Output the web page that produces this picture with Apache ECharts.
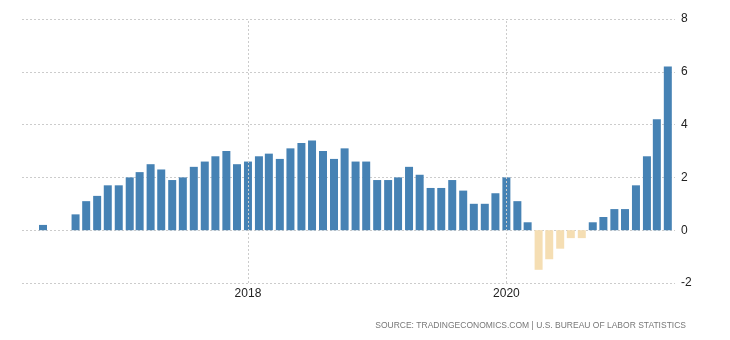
<!DOCTYPE html>
<html>
<head>
<meta charset="utf-8">
<script src="https://cdn.jsdelivr.net/npm/echarts@6/dist/echarts.min.js"></script>
<style>
  html, body { margin: 0; padding: 0; background: #fff; }
  #chart { width: 730px; height: 340px; }
</style>
</head>
<body>
<div id="chart"></div>
<script>
// Monthly dates (bar positions)
var months = [
  '2016-06-01','2016-07-01','2016-08-01','2016-09-01','2016-10-01','2016-11-01','2016-12-01',
  '2017-01-01','2017-02-01','2017-03-01','2017-04-01','2017-05-01','2017-06-01',
  '2017-07-01','2017-08-01','2017-09-01','2017-10-01','2017-11-01','2017-12-01',
  '2018-01-01','2018-02-01','2018-03-01','2018-04-01','2018-05-01','2018-06-01',
  '2018-07-01','2018-08-01','2018-09-01','2018-10-01','2018-11-01','2018-12-01',
  '2019-01-01','2019-02-01','2019-03-01','2019-04-01','2019-05-01','2019-06-01',
  '2019-07-01','2019-08-01','2019-09-01','2019-10-01','2019-11-01','2019-12-01',
  '2020-01-01','2020-02-01','2020-03-01','2020-04-01','2020-05-01','2020-06-01',
  '2020-07-01','2020-08-01','2020-09-01','2020-10-01','2020-11-01','2020-12-01',
  '2021-01-01','2021-02-01','2021-03-01','2021-04-01'
];
// Year-over-year values (%)
var values = [
  0.2, 0, 0, 0.6, 1.1, 1.3, 1.7,
  1.7, 2.0, 2.2, 2.5, 2.3, 1.9,
  2.0, 2.4, 2.6, 2.8, 3.0, 2.5,
  2.6, 2.8, 2.9, 2.7, 3.1, 3.3,
  3.4, 3.0, 2.7, 3.1, 2.6, 2.6,
  1.9, 1.9, 2.0, 2.4, 2.1, 1.6,
  1.6, 1.9, 1.5, 1.0, 1.0, 1.4,
  2.0, 1.1, 0.3, -1.5, -1.1, -0.7,
  -0.3, -0.3, 0.3, 0.5, 0.8, 0.8,
  1.7, 2.8, 4.2, 6.2
];
// X tick positions and labels (years)
var xTicks = ['2018-01-01', '2020-01-01'];
var xTickLabels = ['2018', '2020'];
// Y axis ticks
var yMin = -2, yMax = 8, yStep = 2;
// time range (ECharts widens it slightly to fit the bars)
var xMin = '2016-04-14', xMax = '2021-04-10';
var sourceText = 'SOURCE: TRADINGECONOMICS.COM | U.S. BUREAU OF LABOR STATISTICS';

var posColor = '#4682b4', negColor = '#f5deb3';
var gridColor = '#cccccc';

var chart = echarts.init(document.getElementById('chart'), null, { renderer: 'canvas' });
chart.setOption({
  animation: false,
  backgroundColor: '#ffffff',
  title: {
    text: sourceText,
    right: 39,
    bottom: 5,
    textStyle: { fontSize: 8.5, fontWeight: 'normal', color: '#777777', fontFamily: 'Liberation Sans' }
  },
  grid: { left: 22, right: 55, top: 19, bottom: 57 },
  xAxis: {
    type: 'time',
    min: xMin,
    max: xMax,
    axisLine: { show: false },
    axisTick: { show: false },
    splitLine: { show: false },
    axisLabel: { show: false }
  },
  yAxis: {
    type: 'value',
    position: 'right',
    min: yMin,
    max: yMax,
    interval: yStep,
    axisLine: { show: false },
    axisTick: { show: false },
    axisLabel: { color: '#222222', fontSize: 12, margin: 6, fontFamily: 'Liberation Sans' },
    splitLine: { show: true, lineStyle: { type: [2, 2], color: gridColor, width: 1 } }
  },
  series: [{
    type: 'bar',
    barWidth: 8,
    data: months.map(function (m, i) { return [m, values[i]]; }),
    itemStyle: {
      color: function (p) { return p.value[1] < 0 ? negColor : posColor; }
    },
    markLine: {
      silent: true,
      symbol: ['none', 'none'],
      lineStyle: { type: [2, 2], color: gridColor, width: 1 },
      label: {
        show: true,
        position: 'start',
        distance: 5,
        color: '#222222',
        fontSize: 12,
        fontFamily: 'Liberation Sans'
      },
      data: xTicks.map(function (d, i) {
        return { xAxis: d, label: { formatter: xTickLabels[i] } };
      })
    }
  }]
});
</script>
</body>
</html>
